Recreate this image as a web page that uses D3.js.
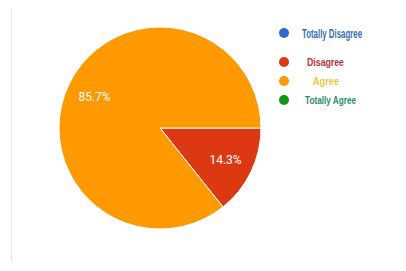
<!DOCTYPE html>
<html>
<head>
<meta charset="utf-8">
<script src="https://cdn.jsdelivr.net/npm/d3@7"></script>
<style>
  body { margin: 0; background: #fff; }
</style>
</head>
<body>
<script>
// chart data
var categories = ["Totally Disagree", "Disagree", "Agree", "Totally Agree"];
var counts = [0, 1, 6, 0];
var colors = ["#3366cc", "#dc3912", "#ff9900", "#109618"];
var labelColors = ["#3b6db3", "#b8323e", "#e6c93a", "#2a8c6a"];

window.onload = function() {
    var w = 406, h = 271;
    var svg = d3.select("body").append("svg")
        .attr("width", w)
        .attr("height", h);

    // faint frame line on the left
    svg.append("line")
        .attr("x1", 11.5).attr("x2", 11.5)
        .attr("y1", 8).attr("y2", 262)
        .style("stroke", "#e4e4e4")
        .style("stroke-width", 1);

    var data = categories.map(function(c, i) {
        return { name: c, value: counts[i], color: colors[i] };
    });

    var pie = d3.pie()
        .sort(null)
        .value(function(d) { return d.value; })
        .startAngle(Math.PI / 2)
        .endAngle(Math.PI / 2 + 2 * Math.PI);

    var r = 101;
    var arc = d3.arc().innerRadius(0).outerRadius(r);
    var labelArc = d3.arc().innerRadius(r * 0.72).outerRadius(r * 0.72);

    var g = svg.append("g").attr("transform", "translate(160,128)");
    var slices = pie(data).filter(function(d) { return d.data.value > 0; });
    var total = d3.sum(counts);

    g.selectAll(".slice")
        .data(slices)
        .enter()
        .append("path")
        .attr("class", "slice")
        .attr("d", arc)
        .style("fill", function(d) { return d.data.color; })
        .style("stroke", "#fff")
        .style("stroke-width", 1);

    g.selectAll(".pct")
        .data(slices)
        .enter()
        .append("text")
        .attr("class", "pct")
        .attr("transform", function(d) {
            var c = labelArc.centroid(d);
            return "translate(" + c[0] + "," + c[1] + ")";
        })
        .attr("text-anchor", "middle")
        .attr("dy", "0.35em")
        .style("font-family", "Roboto, 'Liberation Sans', Arial, sans-serif")
        .style("font-size", "12px")
        .style("fill", "#fff")
        .text(function(d) { return d3.format(".1f")(d.data.value / total * 100) + "%"; });

    // legend (condensed bold text, squeezed to the widths seen)
    var legY = [33, 62, 81, 100];
    var textX = [302, 307, 313, 305];
    var textW = [60, 37, 26, 51];
    var leg = svg.selectAll(".leg")
        .data(data)
        .enter()
        .append("g")
        .attr("class", "leg");

    leg.append("circle")
        .attr("cx", 284)
        .attr("cy", function(d, i) { return legY[i]; })
        .attr("r", 5)
        .style("fill", function(d) { return d.color; });

    leg.append("text")
        .attr("x", function(d, i) { return textX[i]; })
        .attr("y", function(d, i) { return legY[i]; })
        .attr("dy", "0.35em")
        .attr("textLength", function(d, i) { return textW[i]; })
        .attr("lengthAdjust", "spacingAndGlyphs")
        .style("font-family", "'Liberation Sans', Arial, sans-serif")
        .style("font-weight", "bold")
        .style("font-size", function(d, i) { return i === 0 ? "13px" : "11.5px"; })
        .style("fill", function(d, i) { return labelColors[i]; })
        .text(function(d) { return d.name; });
};
</script>
</body>
</html>
